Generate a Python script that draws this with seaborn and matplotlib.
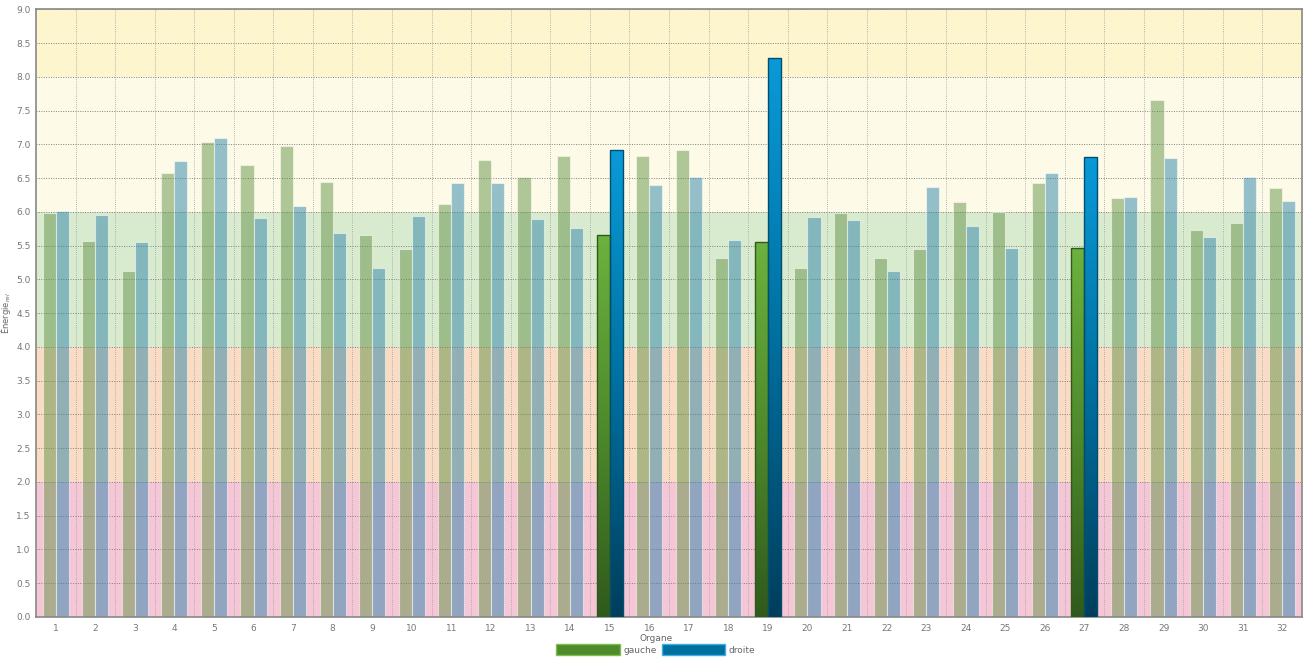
import numpy as np
import pandas as pd
import matplotlib
matplotlib.use("Agg")
import matplotlib.pyplot as plt
import seaborn as sns
from matplotlib.patches import Patch
from matplotlib.colors import LinearSegmentedColormap
from matplotlib.ticker import MultipleLocator, FixedLocator

organes = [str(i) for i in range(1, 33)]
gauche = [5.98, 5.57, 5.13, 6.58, 7.04, 6.69, 6.98, 6.44, 5.66, 5.45,
          6.12, 6.77, 6.51, 6.82, 5.66, 6.82, 6.92, 5.32, 5.55, 5.17,
          5.98, 5.32, 5.45, 6.15, 6.00, 6.42, 5.46, 6.20, 7.66, 5.73,
          5.83, 6.35]
droite = [6.01, 5.96, 5.55, 6.76, 7.10, 5.91, 6.08, 5.68, 5.17, 5.94,
          6.42, 6.42, 5.89, 5.76, 6.92, 6.40, 6.51, 5.58, 8.28, 5.93,
          5.88, 5.12, 6.37, 5.79, 5.47, 6.58, 6.81, 6.22, 6.80, 5.63,
          6.51, 6.16]
highlight = ["15", "19", "27"]

bands = [(0, 2, "#f5c6d6"), (2, 4, "#f9dcc3"), (4, 6, "#d9ebcf"),
         (6, 8, "#fdfbe7"), (8, 9, "#fcf5cd")]

df = pd.DataFrame({
    "organe": organes * 2,
    "energie": gauche + droite,
    "cote": ["gauche"] * len(gauche) + ["droite"] * len(droite),
})

green_cmap = LinearSegmentedColormap.from_list("g", ["#2f5a1c", "#4f8a2c", "#6cb23e"])
blue_cmap = LinearSegmentedColormap.from_list("b", ["#003e5c", "#0070a0", "#0a9ad8"])

sns.set_style("white")
fig = plt.figure(figsize=(13.12, 6.62), dpi=100)
ax = fig.add_axes([0.0274, 0.068, 0.965, 0.918])

for lo, hi, col in bands:
    ax.axhspan(lo, hi, color=col, zorder=0, lw=0)

sns.barplot(data=df, x="organe", y="energie", hue="cote",
            palette={"gauche": "#5e9e3a", "droite": "#1a8cc0"},
            width=0.66, gap=0, alpha=0.5, legend=False, ax=ax, zorder=2)

edges = {"gauche": "#2e5a1c", "droite": "#004e70"}
for cont, cote, cmap in zip(ax.containers, ["gauche", "droite"], [green_cmap, blue_cmap]):
    for lab, bar in zip(organes, cont):
        if lab in highlight:
            bar.set_alpha(1)
            bar.set_facecolor("none")
            bar.set_edgecolor(edges[cote])
            bar.set_linewidth(1.0)
            bar.set_zorder(4)
            x0, y0 = bar.get_x(), bar.get_y()
            w, h = bar.get_width(), bar.get_height()
            grad = np.linspace(0, 1, 256).reshape(-1, 1)
            im = ax.imshow(grad, cmap=cmap, origin="lower", aspect="auto",
                           extent=[x0, x0 + w, y0, y0 + h], zorder=3)
            im.set_clip_path(bar)
        else:
            bar.set_edgecolor((1, 1, 1, 0.45))
            bar.set_linewidth(0.8)

ax.set_xlim(-0.5, len(organes) - 0.5)
ax.set_ylim(0, 9)
ax.yaxis.set_major_locator(MultipleLocator(0.5))
ax.yaxis.set_minor_locator(MultipleLocator(0.1))
ax.xaxis.set_minor_locator(FixedLocator(np.arange(0.5, len(organes) - 1, 1)))
ax.set_axisbelow(True)
ax.grid(which="major", axis="y", color="#808080", ls=(0, (1, 1.5)), lw=0.7, zorder=1)
ax.grid(which="minor", axis="x", color="#a0a0a0", ls=(0, (1, 1.5)), lw=0.6, zorder=1)
ax.grid(which="major", axis="x", visible=False)

ax.tick_params(axis="y", which="major", direction="in", length=5, width=0.8,
               color="#666666", labelsize=6.5, labelcolor="#777777", pad=4)
ax.tick_params(axis="y", which="minor", direction="in", length=3, width=0.6,
               color="#666666")
ax.tick_params(axis="x", which="both", length=0, labelsize=6.5,
               labelcolor="#777777", pad=5)
ax.yaxis.set_major_formatter(matplotlib.ticker.FormatStrFormatter("%.1f"))

for sp in ax.spines.values():
    sp.set_visible(True)
    sp.set_color("#888888")
    sp.set_linewidth(1.2)

ax.set_xlabel("")
ax.set_ylabel("Énergie$_{rel}$", fontsize=6, color="#666666")
ax.yaxis.set_label_coords(-0.018, 0.5)

handles = [Patch(facecolor="#4f8a2c", edgecolor="#7fbf4f", label="gauche"),
           Patch(facecolor="#0070a0", edgecolor="#3fb0e0", label="droite")]
leg = fig.legend(handles=handles, title="Organe", loc="lower center",
                 bbox_to_anchor=(0.5, 0.004), ncol=2, frameon=False,
                 fontsize=6.5, title_fontsize=6.5, handlelength=7,
                 handleheight=1.4, handletextpad=0.4, columnspacing=0.6,
                 borderaxespad=0.3, borderpad=0.2, labelspacing=0.2)
for t in leg.get_texts():
    t.set_color("#666666")
leg.get_title().set_color("#666666")

fig.savefig("out.png", dpi=100)
